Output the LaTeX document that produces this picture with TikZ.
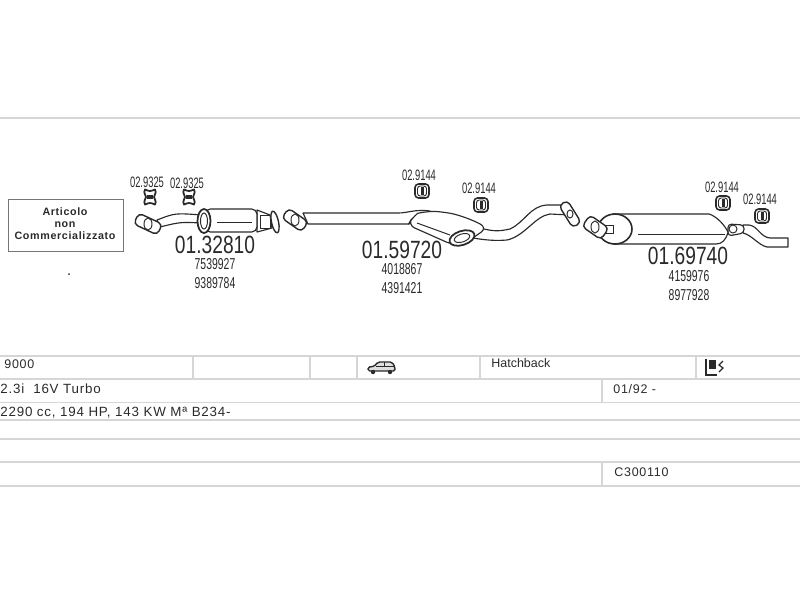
\documentclass[tikz,border=0pt]{standalone}
\usepackage{fontspec}
\setmainfont{Liberation Sans}
\newfontfamily\bigfont[FakeStretch=0.77]{Liberation Sans}
\newfontfamily\codefont[FakeStretch=0.66]{Liberation Sans}
\newfontfamily\clipfont[FakeStretch=0.62]{Liberation Sans}
\newfontfamily\rowfont[LetterSpace=6]{Liberation Sans}
\definecolor{rule}{HTML}{D6D6D6}
\definecolor{ink}{HTML}{2A2A2A}
\tikzset{
	rulerow/.style={draw=rule, line width=1.1pt},
	topline/.style={draw=rule, line width=1.2pt},
	part/.style={draw=ink, fill=white, line width=.65pt, line join=round},
	thin part/.style={draw=ink, line width=.55pt},
	bignum/.style={inner sep=0, text=ink, font=\bigfont\fontsize{14.2}{14}\selectfont},
	oem/.style={inner sep=0, text=ink, font=\codefont\fontsize{9}{9}\selectfont},
	clip code/.style={inner sep=0, text=ink, font=\clipfont\fontsize{8.6}{9}\selectfont},
	rowtext/.style={inner sep=0, anchor=west, text=ink, font=\rowfont\fontsize{7.1}{9}\selectfont},
	widerow/.style={rowtext, font=\rowfont\fontsize{7.6}{9}\selectfont},
	boxtext/.style={inner sep=0, text=ink, font=\bfseries\rowfont\fontsize{6.1}{7}\selectfont},
	flange/.style={part, line width=.8pt, rounded corners=2.5pt},
	pics/bone/.style={code={
		\draw [part, line width=1pt] (-5,-7.5) .. controls (0,-5.5) .. (5,-7.5) .. controls (7,-4) and (4,-2) .. (4,0) .. controls (4,2) and (7,4) .. (5,7.5) .. controls (0,5.5) .. (-5,7.5) .. controls (-7,4) and (-4,2) .. (-4,0) .. controls (-4,-2) and (-7,-4) .. (-5,-7.5) -- cycle;
		\fill [ink] (-3,-1.7) rectangle (3,1.7);
	}},
	pics/block/.style={code={
		\draw [part, line width=.9pt, rounded corners=2pt] (-7,-7) rectangle (7,7);
		\draw [ink, line width=.55pt, rounded corners=1.5pt] (-4.5,-5) rectangle (4.5,5);
		\fill [ink] (-1.5,-4) rectangle (1.5,4);
	}},
}
\begin{document}
\begin{tikzpicture}[x=.02cm, y=-.02cm]
	\useasboundingbox (0, 0) rectangle (800, 600);
	% table
	\draw [topline] (0, 118) -- (800, 118);
	\foreach \y in {356, 379, 402.5, 420, 439, 462, 486}
		\draw [rulerow] (0, \y) -- (800, \y);
	\foreach \x in {193, 310, 357, 480, 696}
		\draw [rulerow] (\x, 356) -- (\x, 379);
	\draw [rulerow] (602, 379) -- (602, 402.5);
	\draw [rulerow] (602, 462) -- (602, 486);
	\node [rowtext] (Model) at (4, 364.5) {9000};
	\node [widerow] (Engine) at (0, 388.5) {2.3i\ \ 16V Turbo};
	\node [widerow] (Power) at (0, 412.5) {2290 cc, 194 HP, 143 KW M\textordfeminine\ B234-};
	\node [rowtext] (Body) at (491, 363.5) {\addfontfeature{LetterSpace=0}Hatchback};
	\node [rowtext] (Years) at (613, 389.5) {01/92 -};
	\node [rowtext] (Catalog) at (614, 472.5) {C300110};
	% car icon
	\draw [ink, fill=ink!15, line width=.8pt, rounded corners=1pt] (368, 371) -- (368, 367) -- (374, 366.5) -- (378, 362) -- (392, 362) -- (395, 367) -- (395, 371) -- cycle;
	\draw [ink, line width=.4pt] (376, 366.5) -- (394, 366.5) (384, 362) -- (384, 366.5);
	\fill [ink] (373, 372) circle (2.2) (390, 372) circle (2.2);
	% fuel icon
	\draw [ink, line width=.7pt] (706, 359) -- (706, 375) -- (717, 375);
	\fill [ink] (709, 360) rectangle (716, 369);
	\draw [ink, line width=.7pt] (723, 361) -- (719, 365) -- (723, 368) -- (719, 372);
	% note box
	\draw [draw=ink!65, line width=.55pt] (8, 199) rectangle (123, 251);
	\node [boxtext] (Art) at (65, 212) {Articolo};
	\node [boxtext] (Non) at (65, 225) {non};
	\node [boxtext] (Comm) at (65, 236) {Commercializzato};
	\fill [ink] (69, 274) circle (1);
	% front pipe with converter
	\draw [part] (157, 220) .. controls (175, 213) .. (202, 215) -- (202, 223) .. controls (180, 222) .. (160, 227) -- cycle;
	\draw [flange, rotate around={-25:(148, 224)}] (135, 218) rectangle (161, 230);
	\draw [thin part] (148, 224) ellipse (4 and 6);
	\draw [part] (257, 210) -- (270, 215) -- (272, 228) -- (257, 232) -- cycle;
	\draw [thin part] (260, 215) rectangle (270, 228);
	\draw [part, line width=.8pt, rotate around={12:(275, 222)}] (275, 222) ellipse (3.5 and 11);
	\draw [part, rounded corners=3pt] (205, 209) -- (257, 209) -- (257, 232) -- (205, 232) -- cycle;
	\draw [part, line width=1pt] (204, 221) ellipse (6.5 and 12);
	\draw [thin part] (204, 221) ellipse (3.5 and 8);
	\draw [thin part] (217, 222) -- (252, 222);
	\pic at (150, 197) {bone};
	\pic at (189, 197) {bone};
	\node [clip code] (Clip A) at (147, 182) {02.9325};
	\node [clip code] (Clip B) at (187, 183) {02.9325};
	\node [bignum] (Front) at (215, 244.5) {01.32810};
	\node [oem] (Front A) at (215, 264) {7539927};
	\node [oem] (Front B) at (215, 283) {9389784};
	% centre pipe with muffler
	\draw [part] (303, 213) -- (398, 213) .. controls (408, 213) and (415, 209) .. (430, 211) -- (420, 222) -- (408, 224) -- (308, 224) -- cycle;
	\draw [flange, rotate around={-35:(295, 220)}] (283, 214) rectangle (307, 226);
	\draw [thin part] (295, 220) ellipse (4 and 6);
	\draw [part] (480, 228) .. controls (495, 232) and (500, 231) .. (510, 229) .. controls (525, 222) and (530, 206) .. (547, 205) -- (563, 205) -- (570, 215) -- (550, 214) .. controls (535, 216) and (525, 236) .. (507, 240) .. controls (495, 241) and (485, 240) .. (473, 238) -- cycle;
	\draw [part, rounded corners=4pt] (412, 218) .. controls (418, 213) and (430, 211) .. (443, 212) .. controls (460, 215) and (475, 221) .. (487, 228) -- (470, 240) -- (453, 245) -- (408, 225) -- cycle;
	\draw [thin part] (417, 223) -- (450, 235);
	\draw [part, line width=1pt, rotate around={18:(462, 238)}] (462, 238) ellipse (13 and 7);
	\draw [thin part, rotate around={18:(462, 238)}] (462, 238) ellipse (8 and 4);
	\draw [flange, rotate around={-58:(570, 214)}] (557, 209) rectangle (583, 219);
	\draw [thin part] (570, 214) ellipse (3 and 4);
	\pic at (422, 191) {block};
	\pic at (481, 205) {block};
	\node [clip code] (Clip C) at (419, 175) {02.9144};
	\node [clip code] (Clip D) at (479, 188) {02.9144};
	\node [bignum] (Centre) at (402, 250) {01.59720};
	\node [oem] (Centre A) at (402, 269.5) {4018867};
	\node [oem] (Centre B) at (402, 288) {4391421};
	% rear muffler and tail pipe
	\draw [part] (743, 225) -- (749, 225) .. controls (758, 226) and (760, 237) .. (770, 238) -- (788, 238) -- (788, 247) -- (767, 247) .. controls (758, 245) and (752, 235) .. (743, 233) -- cycle;
	\draw [part, rounded corners=2pt] (728, 224) -- (744, 225) -- (744, 233) -- (728, 236) -- cycle;
	\draw [thin part] (733, 229) circle (4);
	\draw [part] (613, 214) -- (709, 214) .. controls (716, 216) and (724, 224) .. (728, 232) .. controls (726, 240) and (722, 244) .. (716, 244) -- (613, 244) -- cycle;
	\draw [thin part] (638, 234) -- (725, 234);
	\draw [part, line width=.9pt] (615, 229) ellipse (17 and 15);
	\draw [thin part] (605, 225) rectangle (613, 233);
	\draw [flange, rotate around={-35:(595, 227)}] (584, 220) rectangle (607, 234);
	\draw [thin part] (595, 227) ellipse (4 and 6);
	\pic at (723, 203) {block};
	\pic at (762, 216) {block};
	\node [clip code] (Clip E) at (722, 187) {02.9144};
	\node [clip code] (Clip F) at (760, 199) {02.9144};
	\node [bignum] (Rear) at (688, 256) {01.69740};
	\node [oem] (Rear A) at (689, 276) {4159976};
	\node [oem] (Rear B) at (689, 295) {8977928};
\end{tikzpicture}
\end{document}
